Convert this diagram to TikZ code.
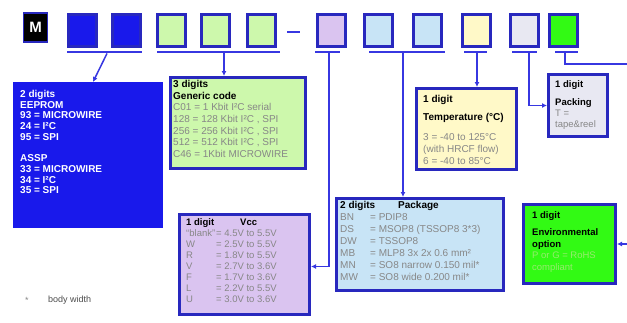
\documentclass[tikz,border=0pt]{standalone}
\usepackage{fontspec}
\setmainfont{Liberation Sans}
\usetikzlibrary{arrows.meta}
\definecolor{frameblue}{RGB}{40,40,190}
\definecolor{linkblue}{RGB}{55,55,225}
\definecolor{eepblue}{RGB}{25,25,235}
\definecolor{codegreen}{RGB}{205,248,172}
\definecolor{vccpurple}{RGB}{218,196,240}
\definecolor{pkgblue}{RGB}{200,228,246}
\definecolor{tempyellow}{RGB}{255,249,200}
\definecolor{packgrey}{RGB}{232,232,242}
\definecolor{envgreen}{RGB}{50,250,20}
\definecolor{note}{RGB}{135,135,135}
\definecolor{envnote}{RGB}{150,235,110}

\begin{document}
\begin{tikzpicture}[x=1pt,y=-1pt]
\tikzstyle{digit}=[draw=frameblue, line width=3pt, minimum width=28pt, minimum height=32pt, inner sep=0pt]
\tikzstyle{bar}=[fill=linkblue, minimum height=2.5pt, inner sep=0pt]
\tikzstyle{card}=[draw=frameblue, line width=3pt, anchor=north west, inner sep=0pt]
\tikzstyle{txt}=[anchor=north west, align=left, inner sep=0pt, text=note, font=\fontsize{10}{11.5}\selectfont]
\tikzstyle{link}=[draw=linkblue, line width=1.5pt, -{Latex[length=5pt,width=5pt]}]

\useasboundingbox (0,0) rectangle (627,322);

\draw (35.5,27.5) node[draw=frameblue, fill=black, line width=1.5pt, minimum width=24pt, minimum height=29pt, inner sep=0pt, text=white, font=\bfseries\fontsize{15}{15}\selectfont] (logo) {M};

\draw (82.5,30) node[digit, fill=eepblue] (ee1) {};
\draw (126.5,30) node[digit, fill=eepblue] (ee2) {};
\draw (171,30) node[digit, fill=codegreen] (code1) {};
\draw (215,30) node[digit, fill=codegreen] (code2) {};
\draw (261.5,30) node[digit, fill=codegreen] (code3) {};
\draw (293.5,32) node[bar, minimum width=13pt] (dash) {};
\draw (331,30) node[digit, fill=vccpurple] (vccDigit) {};
\draw (378.5,30) node[digit, fill=pkgblue] (pkg1) {};
\draw (427.5,30) node[digit, fill=pkgblue] (pkg2) {};
\draw (476.5,30) node[digit, fill=tempyellow] (tempDigit) {};
\draw (524.5,30) node[digit, fill=packgrey] (packDigit) {};
\draw (563,30) node[digit, fill=envgreen] (envDigit) {};

\draw (104.5,52) node[bar, minimum width=75pt] (eeBar) {};
\draw (218.5,52) node[bar, minimum width=123pt] (codeBar) {};
\draw (327.5,52) node[bar, minimum width=25pt] (vccBar) {};
\draw (407,52) node[bar, minimum width=76pt] (pkgBar) {};
\draw (475.5,52) node[bar, minimum width=23pt] (tempBar) {};
\draw (524.5,52) node[bar, minimum width=25pt] (packBar) {};
\draw (566.5,52) node[bar, minimum width=23pt] (envBar) {};

\draw (13,82) node[card, draw=eepblue, fill=eepblue, minimum width=147pt, minimum height=143pt] (eeprom) {};
\draw (169,76) node[card, fill=codegreen, minimum width=135pt, minimum height=91pt] (code) {};
\draw (178,213) node[card, fill=vccpurple, minimum width=130pt, minimum height=100pt] (vcc) {};
\draw (335,197) node[card, fill=pkgblue, minimum width=167pt, minimum height=92pt] (pkg) {};
\draw (415,87) node[card, fill=tempyellow, minimum width=100pt, minimum height=81pt] (temp) {};
\draw (547,73) node[card, fill=packgrey, minimum width=59pt, minimum height=62pt] (packing) {};
\draw (522,203) node[card, fill=envgreen, minimum width=92pt, minimum height=79pt] (env) {};

\draw ([shift={(7,8)}]eeprom.north west) node[txt, text=white, font=\bfseries\fontsize{10}{10.7}\selectfont] (eepromText)
  {2 digits\\EEPROM\\93 = MICROWIRE\\24 = I²C\\95 = SPI\\[10.7pt]ASSP\\33 = MICROWIRE\\34 = I²C\\35 = SPI};
\draw ([shift={(4,4)}]code.north west) node[txt, font=\fontsize{10}{11.7}\selectfont] (codeText)
  {\textcolor{black}{\textbf{3 digits}}\\\textcolor{black}{\textbf{Generic code}}\\C01 = 1 Kbit I²C serial\\128 = 128 Kbit I²C , SPI\\256 = 256 Kbit I²C , SPI\\512 = 512 Kbit I²C , SPI\\C46 = 1Kbit MICROWIRE};
\draw ([shift={(8,5)}]vcc.north west) node[txt, font=\fontsize{9.5}{11}\selectfont] (vccText)
  {\textcolor{black}{\textbf{\makebox[54pt][l]{1 digit}Vcc}}\\\makebox[30pt][l]{“blank”}= 4.5V to 5.5V\\\makebox[30pt][l]{W}= 2.5V to 5.5V\\\makebox[30pt][l]{R}= 1.8V to 5.5V\\\makebox[30pt][l]{V}= 2.7V to 3.6V\\\makebox[30pt][l]{F}= 1.7V to 3.6V\\\makebox[30pt][l]{L}= 2.2V to 5.5V\\\makebox[30pt][l]{U}= 3.0V to 3.6V};
\draw ([shift={(5,4)}]pkg.north west) node[txt, font=\fontsize{10}{12}\selectfont] (pkgText)
  {\textcolor{black}{\textbf{\makebox[58pt][l]{2 digits}Package}}\\\makebox[30pt][l]{BN}= PDIP8\\\makebox[30pt][l]{DS}= MSOP8 (TSSOP8 3*3)\\\makebox[30pt][l]{DW}= TSSOP8\\\makebox[30pt][l]{MB}= MLP8 3x 2x 0.6 mm²\\\makebox[30pt][l]{MN}= SO8 narrow 0.150 mil*\\\makebox[30pt][l]{MW}= SO8 wide 0.200 mil*};
\draw ([shift={(8,8)}]temp.north west) node[txt, font=\fontsize{10}{12}\selectfont] (tempText)
  {\textcolor{black}{\textbf{1 digit}}\\[6pt]\textcolor{black}{\textbf{Temperature (°C)}}\\[8pt]3 = -40 to 125°C\\(with HRCF flow)\\6 = -40 to 85°C};
\draw ([shift={(8,7)}]packing.north west) node[txt, font=\fontsize{9.5}{11}\selectfont] (packText)
  {\textcolor{black}{\textbf{1 digit}}\\[7pt]\textcolor{black}{\textbf{Packing}}\\T =\\tape\&reel};
\draw ([shift={(10,8)}]env.north west) node[txt, text=envnote, font=\fontsize{9.5}{11.5}\selectfont] (envText)
  {\textcolor{black}{\textbf{1 digit}}\\[6pt]\textcolor{black}{\textbf{Environmental}}\\\textcolor{black}{\textbf{option}}\\P or G = RoHS\\compliant};

\draw (27,300) node[text=note, font=\fontsize{9}{9}\selectfont] (star) {*};
\draw (48,300) node[anchor=west, inner sep=0pt, text=black!70, font=\fontsize{9}{9}\selectfont] (bodyNote) {body width};

\coordinate (envTurn) at (640,64);
\draw[link] ([xshift=2.5pt]eeBar.south) -- ([xshift=5pt]eeprom.north);
\draw[link] ([xshift=5.5pt]codeBar.south) -- ([xshift=5.5pt]codeBar.south |- code.north);
\draw[link] ([xshift=1.5pt]vccBar.south) |- ([yshift=-2pt]vcc.east);
\draw[link] ([xshift=-4pt]pkgBar.south) -- ([xshift=-4pt]pkgBar.south |- pkg.north);
\draw[link] ([xshift=1.5pt]tempBar.south) -- ([xshift=1.5pt]tempBar.south |- temp.north);
\draw[link] ([xshift=4.5pt]packBar.south) |- (packing.west);
\draw[link] ([xshift=-1.5pt]envBar.south) |- (envTurn) |- (env.east);
\end{tikzpicture}
\end{document}
